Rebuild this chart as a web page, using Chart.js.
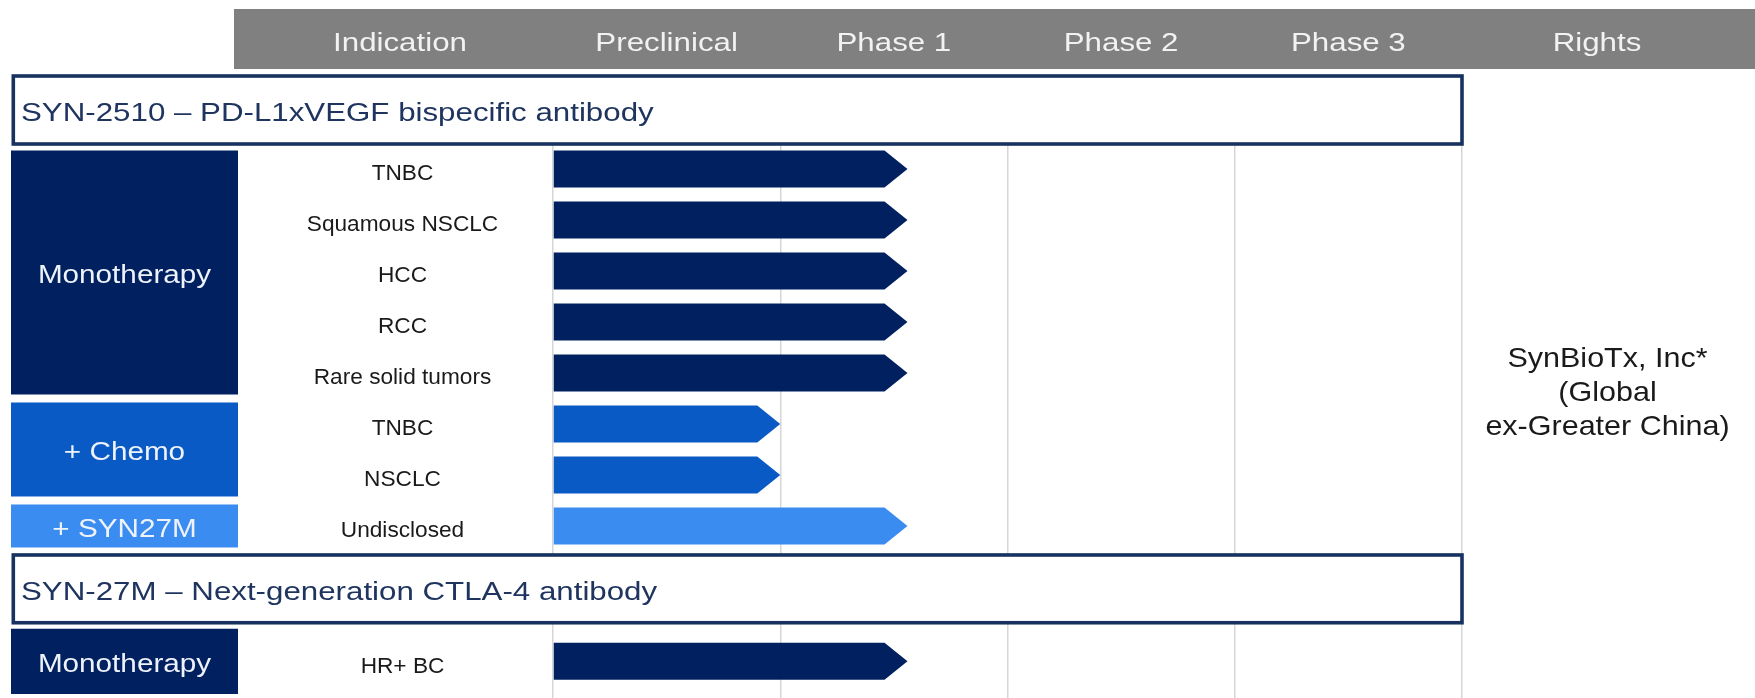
<!DOCTYPE html>
<html>
<head>
<meta charset="utf-8">
<script src="https://cdn.jsdelivr.net/npm/chart.js@4.4.1/dist/chart.umd.min.js"></script>
<style>
  html, body { margin: 0; padding: 0; background: #fff; }
  canvas { display: block; }
</style>
</head>
<body>
<canvas id="pipeline" width="1755" height="698"></canvas>
<script>
// ---- data ----
const programs = ['SYN-2510 – PD-L1xVEGF bispecific antibody', 'SYN-27M – Next-generation CTLA-4 antibody'];
const phases = ['Preclinical', 'Phase 1', 'Phase 2', 'Phase 3'];

const syn2510Indications = ['TNBC', 'Squamous NSCLC', 'HCC', 'RCC', 'Rare solid tumors', 'TNBC', 'NSCLC', 'Undisclosed'];
const syn2510Progress = [1.56, 1.56, 1.56, 1.56, 1.56, 1.0, 1.0, 1.56]; // phase units, 0 = start of preclinical
const syn2510Groups = ['Monotherapy', 'Monotherapy', 'Monotherapy', 'Monotherapy', 'Monotherapy', '+ Chemo', '+ Chemo', '+ SYN27M'];

const syn27mIndications = ['', 'HR+ BC']; // first row is the program title row
const syn27mProgress = [null, 1.56];
const syn27mGroups = [null, 'Monotherapy'];

const rightsLines = ['SynBioTx, Inc*', '(Global', 'ex-Greater China)'];

// ---- style ----
const FONT = '"Liberation Sans", Arial, sans-serif';
const groupColors = { 'Monotherapy': '#002060', '+ Chemo': '#0a5ac6', '+ SYN27M': '#3a8cf0' };
const BOX_BORDER = '#17325f';
const TITLE_COLOR = '#1f3560';
const GRID = '#d6d6d6';
const HEADER_BG = '#808080';
const ARROW_HEAD = 23;

function drawText(ctx, str, x, y, size, color, align, sx) {
    ctx.save();
    ctx.translate(x, y);
    ctx.scale(sx || 1, 1);
    ctx.font = size + 'px ' + FONT;
    ctx.fillStyle = color;
    ctx.textAlign = align || 'center';
    ctx.textBaseline = 'alphabetic';
    ctx.fillText(str, 0, 0);
    ctx.restore();
}

function rowBand(scale, i) {
    const pitch = scale.height / scale.getLabels().length;
    const c = scale.getPixelForValue(i);
    return { top: c - pitch / 2, bottom: c + pitch / 2, center: c };
}

const arrowBars = {
    id: 'arrowBars',
    beforeDatasetDraw(chart, args) {
        const ctx = chart.ctx;
        const ds = chart.data.datasets[args.index];
        args.meta.data.forEach((bar, i) => {
            if (ds.data[i] == null) return;
            const h = bar.height / 2;
            ctx.fillStyle = ds.backgroundColor[i];
            ctx.beginPath();
            ctx.moveTo(bar.base, bar.y - h);
            ctx.lineTo(bar.x - ARROW_HEAD, bar.y - h);
            ctx.lineTo(bar.x, bar.y);
            ctx.lineTo(bar.x - ARROW_HEAD, bar.y + h);
            ctx.lineTo(bar.base, bar.y + h);
            ctx.closePath();
            ctx.fill();
        });
        return false;
    }
};

const layoutPlugin = {
    id: 'layoutPlugin',
    afterDraw(chart) {
        const ctx = chart.ctx;
        const x = chart.scales.x;
        const y1 = chart.scales.y1;
        const y2 = chart.scales.y2;
        const W = chart.width;
        const labelX = 402.5;
        const rightsX = 1607.5;

        // header band
        ctx.fillStyle = HEADER_BG;
        ctx.fillRect(234, 9, W - 234, 60);
        drawText(ctx, 'Indication', 400, 50.5, 26.5, '#f2f2f2', 'center', 1.18);
        phases.forEach((p, i) => {
            drawText(ctx, p, x.getPixelForValue(i + 0.5), 50.5, 26.5, '#f2f2f2', 'center', 1.18);
        });
        drawText(ctx, 'Rights', 1597, 50.5, 26.5, '#f2f2f2', 'center', 1.18);

        // program title boxes
        ctx.lineWidth = 3.6;
        ctx.strokeStyle = BOX_BORDER;
        const boxes = [
            { top: 76, bottom: chart.chartArea.top + 0.5 },
            { top: rowBand(y2, 0).top + 3.5, bottom: rowBand(y2, 0).bottom - 2 }
        ];
        boxes.forEach((b, i) => {
            ctx.fillStyle = '#fff';
            ctx.fillRect(13.3, b.top, x.right - 13.3, b.bottom - b.top);
            ctx.strokeRect(13.3, b.top, x.right - 13.3, b.bottom - b.top);
            drawText(ctx, programs[i], 21, (b.top + b.bottom) / 2 + 11, 26.5, TITLE_COLOR, 'left', 1.18);
        });

        // treatment group boxes + indication labels
        [[y1, syn2510Groups, syn2510Indications], [y2, syn27mGroups, syn27mIndications]].forEach(([sc, groups, inds]) => {
            let i = 0;
            while (i < groups.length) {
                const g = groups[i];
                let j = i;
                while (j + 1 < groups.length && groups[j + 1] === g) j++;
                if (g) {
                    const top = rowBand(sc, i).top + (i === 0 ? 7 : 4);
                    const bottom = rowBand(sc, j).bottom - 4;
                    ctx.fillStyle = groupColors[g];
                    ctx.fillRect(11, top, 227, bottom - top);
                    drawText(ctx, g, 124.5, (top + bottom) / 2 + 11, 26.5, '#eef2fa', 'center', 1.12);
                }
                i = j + 1;
            }
            inds.forEach((name, k) => {
                if (!name) return;
                drawText(ctx, name, labelX, sc.getPixelForValue(k) + 11.5, 22, '#1a1a1a', 'center', 1.03);
            });
        });

        // rights
        rightsLines.forEach((line, i) => {
            drawText(ctx, line, rightsX, 366.5 + i * 34.2, 28, '#1a1a1a', 'center', 1.09);
        });
    }
};

const ctx = document.getElementById('pipeline').getContext('2d');
new Chart(ctx, {
    type: 'bar',
    data: {
        datasets: [
            {
                data: syn2510Progress,
                yAxisID: 'y1',
                xAxisID: 'x',
                grouped: false,
                barThickness: 37,
                backgroundColor: syn2510Groups.map(g => groupColors[g])
            },
            {
                data: syn27mProgress,
                yAxisID: 'y2',
                xAxisID: 'x',
                grouped: false,
                barThickness: 37,
                backgroundColor: syn27mGroups.map(g => g ? groupColors[g] : 'transparent')
            }
        ]
    },
    options: {
        indexAxis: 'y',
        responsive: false,
        animation: false,
        layout: { padding: { left: 553, right: 293, top: 143.5, bottom: 0 } },
        plugins: { legend: { display: false }, tooltip: { enabled: false } },
        scales: {
            x: {
                type: 'linear',
                position: 'top',
                min: 0,
                max: 4,
                ticks: { display: false, stepSize: 1 },
                border: { display: false },
                grid: { color: GRID, lineWidth: 1.5, drawTicks: false }
            },
            y1: {
                type: 'category',
                labels: syn2510Indications,
                position: 'left',
                stack: 'rows',
                stackWeight: 8,
                weight: 2,
                display: false
            },
            y2: {
                type: 'category',
                labels: syn27mIndications,
                position: 'left',
                stack: 'rows',
                stackWeight: 2.873,
                weight: 1,
                display: false
            }
        }
    },
    plugins: [arrowBars, layoutPlugin]
});
</script>
</body>
</html>
